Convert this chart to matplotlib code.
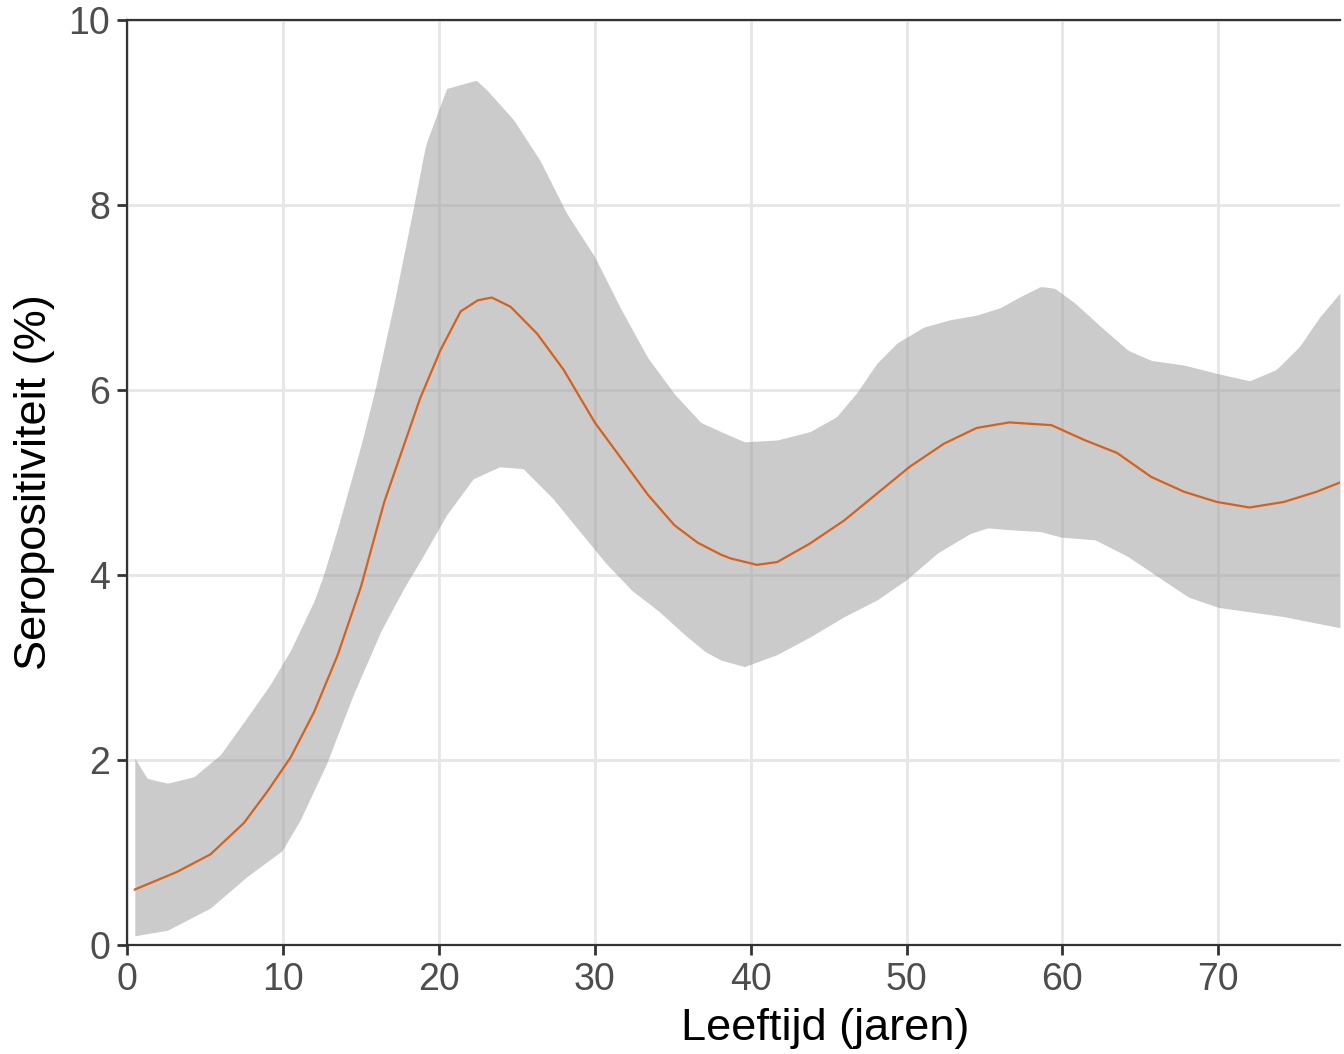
import numpy as np
import matplotlib.pyplot as plt

plt.rcParams['font.family'] = ['Liberation Sans', 'DejaVu Sans']

# schatting (middenlijn)
leeftijd = [0.5, 3.2, 5.35, 7.5, 9.0, 10.5, 12.0, 13.5, 15.0, 16.5, 18.0, 18.8, 20.1, 21.4,
            22.5, 23.4, 24.6, 26.3, 28.0, 30.0, 31.7, 33.4, 35.1, 36.6, 38.1, 38.7, 40.4,
            41.7, 43.8, 46.0, 48.1, 50.2, 52.4, 54.5, 56.6, 59.3, 61.4, 63.5, 65.7, 67.8,
            69.9, 72.0, 74.2, 76.3, 77.8]
schatting = [0.6, 0.79, 0.98, 1.32, 1.66, 2.03, 2.52, 3.13, 3.87, 4.79, 5.52, 5.91, 6.43,
             6.85, 6.97, 7.0, 6.9, 6.61, 6.22, 5.65, 5.26, 4.87, 4.54, 4.35, 4.22, 4.18,
             4.11, 4.14, 4.34, 4.59, 4.88, 5.17, 5.42, 5.59, 5.65, 5.62, 5.46, 5.32, 5.06,
             4.9, 4.79, 4.73, 4.79, 4.9, 5.0]

# bovengrens betrouwbaarheidsband
leeftijd_bo = [0.5, 1.3, 2.6, 4.3, 6.0, 7.7, 9.2, 10.5, 12.0, 12.6, 13.5, 15.0, 15.9, 17.2,
               18.4, 19.15, 19.7, 20.5, 22.4, 23.1, 24.8, 26.5, 28.2, 30.0, 31.7, 33.4,
               35.1, 36.8, 38.1, 39.6, 41.7, 43.8, 45.5, 46.8, 48.1, 49.4, 51.1, 52.8, 54.5,
               56.0, 57.3, 58.6, 59.5, 60.8, 62.5, 64.2, 65.7, 67.8, 69.9, 72.0, 73.7, 75.2,
               76.5, 77.8]
boven = [2.02, 1.8, 1.75, 1.82, 2.06, 2.46, 2.82, 3.19, 3.72, 4.0, 4.5, 5.4, 6.0, 7.0,
         8.0, 8.65, 8.9, 9.26, 9.35, 9.24, 8.92, 8.48, 7.91, 7.44, 6.87, 6.35, 5.96, 5.65,
         5.55, 5.44, 5.46, 5.55, 5.71, 5.97, 6.29, 6.51, 6.68, 6.76, 6.81, 6.89, 7.01, 7.12,
         7.1, 6.94, 6.68, 6.43, 6.32, 6.27, 6.18, 6.1, 6.22, 6.47, 6.79, 7.05]

# ondergrens betrouwbaarheidsband
leeftijd_on = [0.5, 2.6, 5.35, 7.7, 9.95, 11.1, 12.8, 14.5, 16.3, 17.8, 18.8, 20.5, 22.2,
               23.9, 25.4, 27.3, 29.0, 30.7, 32.4, 34.1, 35.8, 37.1, 38.1, 39.6, 41.7, 43.8,
               46.0, 48.1, 50.0, 52.0, 54.1, 55.2, 56.6, 58.6, 59.9, 62.1, 64.2, 66.4, 68.1,
               70.0, 72.1, 74.2, 76.3, 77.8]
onder = [0.1, 0.16, 0.4, 0.74, 1.02, 1.35, 1.96, 2.7, 3.4, 3.87, 4.15, 4.65, 5.04, 5.17,
         5.15, 4.83, 4.48, 4.13, 3.83, 3.61, 3.35, 3.17, 3.08, 3.01, 3.14, 3.33, 3.55, 3.73,
         3.95, 4.24, 4.45, 4.51, 4.49, 4.47, 4.41, 4.38, 4.2, 3.95, 3.76, 3.65, 3.6, 3.55,
         3.48, 3.43]

x_ticks = [0, 10, 20, 30, 40, 50, 60, 70]
y_ticks = [0, 2, 4, 6, 8, 10]

fig = plt.figure(figsize=(13.44, 10.54), dpi=100)
ax = fig.add_axes([0.0945, 0.1034, 0.9025, 0.8776])

# band op een gemeenschappelijk rooster
xs = np.linspace(0.5, 77.8, 600)
lo = np.interp(xs, leeftijd_on, onder)
hi = np.interp(xs, leeftijd_bo, boven)
ax.fill_between(xs, lo, hi, color='#999999', alpha=0.5, linewidth=0, zorder=2)
ax.plot(leeftijd, schatting, color='#D5621C', linewidth=1.6, zorder=3)

ax.set_xlim(0, 77.8)
ax.set_ylim(0, 10)
ax.set_xticks(x_ticks)
ax.set_yticks(y_ticks)
ax.grid(True, color='#e6e6e6', linewidth=2, zorder=0)
ax.set_axisbelow(True)

for side in ['left', 'bottom', 'top']:
    ax.spines[side].set_color('#333333')
    ax.spines[side].set_linewidth(1.6)
ax.spines['right'].set_visible(False)

ax.tick_params(axis='both', length=7, width=2, color='#333333', labelcolor='#4d4d4d',
               labelsize=27, pad=5)

ax.set_xlabel('Leeftijd (jaren)', fontsize=32.5, color='black')
ax.xaxis.set_label_coords(0.576, -0.068)
ax.set_ylabel('Seropositiviteit (%)', fontsize=32.5, color='black', labelpad=10)

fig.savefig('out.png', dpi=100)
